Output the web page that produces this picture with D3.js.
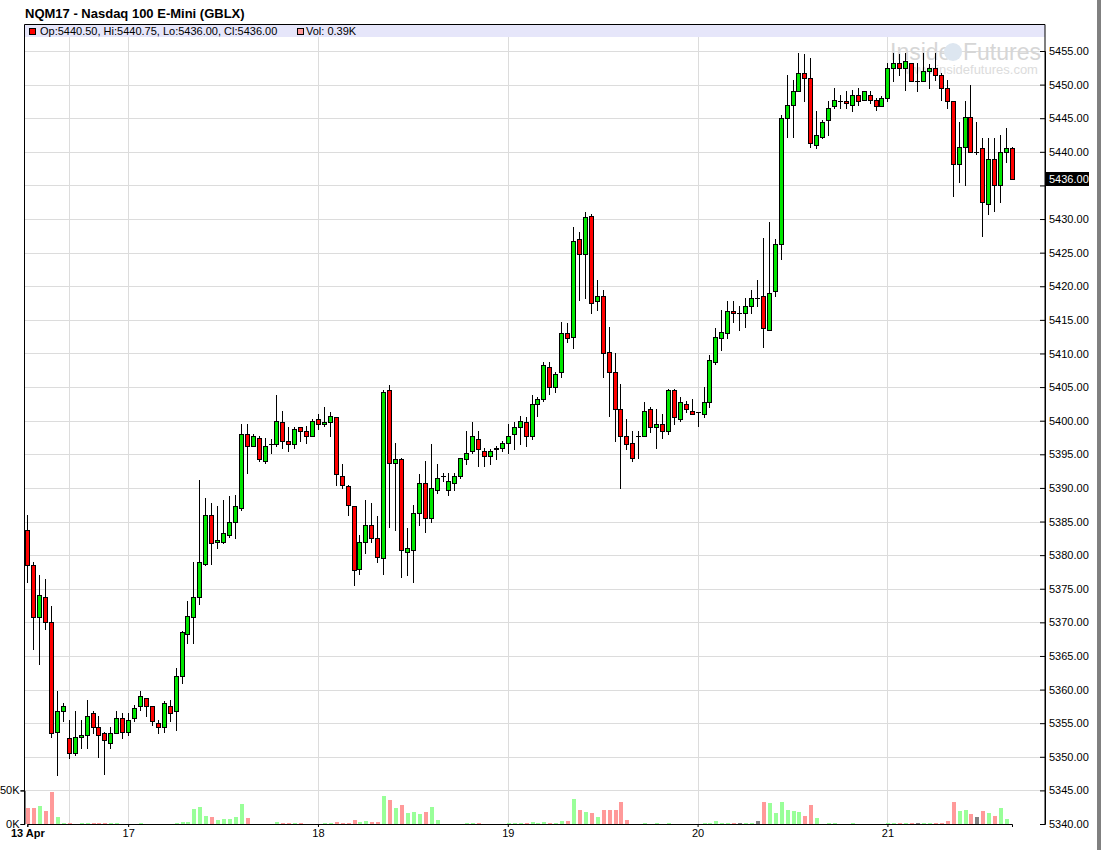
<!doctype html>
<html lang="en">
<head>
<meta charset="utf-8">
<title>NQM17 - Nasdaq 100 E-Mini (GBLX)</title>
<script src="https://d3js.org/d3.v7.min.js"></script>
<style>
  body { margin: 0; background: #fff; }
  text { font-family: "Liberation Sans", Arial, sans-serif; }
</style>
</head>
<body>
<script>
// 45 minute bars, 13 Apr to 21 Apr (weekend collapsed)
var opens = [5383.75,5378.5,5370.75,5373.75,5370,5353.75,5356.75,5352.75,5350.5,5353,
  5353.25,5356.5,5354.5,5353.5,5352,5353.5,5355.75,5353.75,5355.75,5357.5,
  5358.75,5357.5,5355,5354.5,5357.5,5356.75,5362,5368.25,5370.75,5373.75,
  5378.75,5386,5382,5382,5383,5385,5387,5398,5396.25,5397.5,
  5394,5396.5,5396.5,5399.75,5397,5396.5,5399,5398.5,5397.75,5400.25,
  5399.5,5399.75,5400.5,5391.75,5390.25,5387.25,5378,5382,5384.5,5382.5,
  5379.5,5404.5,5393.75,5394.25,5380.5,5380.75,5386.25,5390.75,5385.5,5389.75,
  5391.75,5389.75,5390.75,5391.75,5394.25,5395.5,5397.25,5395.5,5394.75,5395.75,
  5396,5396.75,5398,5399,5399.75,5397.75,5402.5,5403.25,5408,5405,
  5407.25,5413,5412.5,5427,5424.75,5430.5,5417.75,5418.5,5410.25,5407.25,
  5401.75,5397.75,5396.75,5397.75,5397.75,5401.75,5399,5399.5,5398.5,5404.5,
  5400.25,5402.5,5401.5,5401.25,5401,5402.75,5408.75,5412.25,5413,5416.25,
  5416,5416,5417,5418.25,5418.5,5413.5,5419.25,5426.25,5445,5447,
  5449,5451.75,5451,5441,5442.25,5444.75,5446.75,5447.5,5447.5,5447,
  5448.5,5447.75,5448.5,5447.75,5446.75,5448,5452.5,5453.25,5452.5,5453.25,
  5450.5,5450.5,5452,5452.5,5451.5,5449.5,5447.5,5438.25,5440.75,5445.25,
  5440,5440.5,5432.25,5439,5435,5440,5440.5];
var highs = [5386,5379,5377,5376.5,5372.5,5359.75,5358,5355.5,5356.75,5355.5,
  5358.5,5356.75,5356,5353.75,5354.5,5356.75,5356.5,5356.5,5357.75,5359.75,
  5358.75,5357.5,5355.5,5358.25,5358.5,5363.25,5368.75,5373.25,5379,5391.25,
  5388.5,5387.75,5387.25,5388.25,5388.75,5389,5399.5,5399.5,5398,5397.75,
  5397.5,5397.25,5403.75,5401.5,5399,5399,5399,5399.25,5400.25,5401,
  5402,5401.25,5400.5,5393.5,5390.5,5387.25,5383,5388.25,5387.75,5385.75,
  5404.5,5405.25,5396.75,5394.5,5384,5387.5,5392,5394,5396.5,5393.5,
  5392.25,5392.25,5392.25,5394.5,5398.5,5399.75,5398.5,5396,5395.75,5396.25,
  5397,5399.5,5399.75,5400.75,5400.5,5403.75,5403.5,5408.75,5408.75,5407.25,
  5414.75,5414.5,5428.75,5428,5431,5430.75,5421,5419.5,5414,5410,
  5405.5,5400.25,5398.5,5398.5,5402.75,5402,5401.75,5401,5404.75,5404.75,
  5403.5,5403,5403.25,5401.25,5405,5409.75,5413.75,5416.5,5417.75,5417.75,
  5417,5418.25,5419.5,5421,5427.25,5429.5,5427,5445.5,5451.5,5450.75,
  5454.75,5454.5,5454,5446,5444.75,5447.5,5449.5,5448.5,5449,5449.25,
  5449.5,5449,5449,5448,5448.25,5453.25,5454.75,5454.5,5454.75,5453.25,
  5453.25,5454.75,5453,5454.75,5451.75,5450.75,5447.5,5444.5,5447.5,5450,
  5444.5,5442,5442,5442,5442.5,5443.5,5440.75];
var lows = [5376,5366,5363.75,5369,5353,5347.25,5355.25,5349.75,5350.25,5351.25,
  5351.25,5353.5,5350,5347.5,5351.25,5353.5,5352.75,5353.25,5355.25,5357,
  5356,5354.75,5353.5,5353.75,5355.25,5354,5361,5367,5367,5372.75,
  5378.5,5378.75,5381,5381.75,5382.75,5382.5,5386.75,5392.25,5396.25,5394,
  5393.75,5395.25,5396.25,5396,5395.5,5396,5397,5396.75,5397.75,5398.75,
  5399.25,5397.75,5390.5,5390,5386,5375.5,5377.25,5380.25,5382,5379,
  5377.25,5384.25,5383.75,5376.75,5377,5376,5384.5,5383.5,5385,5389.25,
  5391,5389,5389.75,5391.5,5393.5,5395.25,5393.25,5393.25,5393.5,5394.25,
  5395.5,5395.25,5395.75,5396.5,5396.25,5397.25,5400.75,5403,5404,5404.25,
  5406.5,5411.75,5410.75,5418,5418.25,5416,5416.5,5406.5,5400.75,5397,
  5390,5395.75,5394,5394.5,5397.75,5398.25,5396,5397.5,5398,5399.5,
  5400,5401.25,5401,5399.25,5400.5,5402,5408.5,5410.5,5412.25,5414.75,
  5413.5,5414,5416,5417,5411,5413.5,5418.5,5424,5442.25,5442.25,
  5449,5447.5,5440.75,5440.5,5442,5442.5,5446.5,5446.5,5446.5,5446,
  5447,5447.75,5447.25,5446.25,5446.75,5447.5,5450.5,5451.5,5449.25,5450.5,
  5449,5450.5,5449.5,5450.75,5447.75,5446.5,5433.5,5435.5,5435,5440,
  5439.75,5427.5,5430.75,5431.25,5432.5,5438.5,5436];
var closes = [5378.5,5370.75,5374,5370,5353.5,5356.75,5357.5,5350.5,5353,5353.25,
  5356,5354.5,5353.25,5352.5,5353.5,5355.75,5353.75,5355.5,5357.25,5359,
  5357.5,5355.25,5354.5,5358,5356.5,5362,5368.5,5371,5373.75,5379,
  5386,5381.75,5382.25,5383.25,5385,5387.25,5398,5396.25,5397.75,5394.25,
  5396.25,5396.5,5400,5397,5396.5,5398.75,5398.5,5397.75,5400,5399.5,
  5399.75,5400.75,5392,5390.5,5387.5,5377.75,5382,5384.5,5382.5,5379.75,
  5404.25,5393.75,5394.25,5380.75,5381,5386.25,5390.75,5385.5,5390,5391.5,
  5391.75,5391,5391.75,5394.5,5395.25,5397.75,5395.75,5394.75,5395.5,5396,
  5396.75,5397.75,5399,5400,5397.75,5402.5,5403.25,5408.25,5405,5407,
  5413,5412.25,5426.75,5424.75,5430.25,5417.5,5418.5,5410,5407.25,5401.75,
  5397.75,5396.5,5394.5,5397.75,5401.5,5399,5399.5,5398.5,5404.5,5400.5,
  5402.75,5401.75,5401,5401.25,5402.75,5409,5412.5,5413.25,5416.25,5416,
  5416,5417,5418.25,5418.25,5413.75,5419,5426.25,5445,5447,5449,
  5451.75,5451,5441.25,5442.5,5444.5,5446.5,5447.75,5447.5,5447.25,5448.5,
  5447.5,5449,5447.75,5446.75,5448,5452.5,5453.25,5452.5,5453.5,5450.5,
  5450.5,5452,5452.5,5451.5,5449.5,5447.5,5438.25,5440.75,5445.25,5440,
  5440,5432.5,5439,5435,5440,5440.5,5436];
// volume in thousands
var volumes = [24,24,27,19,47.5,10.5,2,2,0.5,1,
  1,1,1,1,1,1,0.3,0.3,0.3,1.5,
  0.3,0.3,0.3,0.3,0.3,1.5,3,3,22,25,
  12,10.5,6,7.5,7.5,10.5,30,9,0.3,0.3,
  0.3,0.3,3,1,1,1,1,0.3,0.3,0.3,
  1.5,1.5,3,1.5,1.5,6,3,4.5,3,3,
  42,36,24,28.5,16.5,18,15,18,25.5,6,
  0.3,0.3,0.3,0.3,1,1,1,0.3,0.3,0.3,
  0.3,1,1,1,1,3,1.5,3,1.5,1.5,
  4.5,4.5,37,21,18,16.5,10.5,21,21,21,
  33,6,0.3,0.3,1,0,1,0,1,0.3,
  0.3,0.3,0.3,0.3,1,1.5,4.5,1.5,1.5,1.5,
  1.5,1.5,1.5,4.5,33,31,16.5,33,21,19.5,
  18,12,28.5,9,0.3,1.5,1.5,0.3,0.3,1,
  0.3,0.3,0.3,0.3,0.3,1,1,1.5,1,1,
  1,1,1,1,1.5,4.5,33,19.5,21,15,
  10.5,19.5,16.5,12,24,7.5,0.39];

// day labels on bar index
var dayTickIdx = [0, 17, 49, 81, 113, 145];
var dayLabels = ["13 Apr", "17", "18", "19", "20", "21"];
var dayGridIdx = [7, 17, 49, 81, 113, 145];
var priceTicks = d3.range(5340, 5456, 5);
var volTicks = [0, 50];

var width = 1104, height = 865;
// note: "top" is taken by window.top, so plot edges get their own names
var plotLeft = 24.5, plotRight = 1045, plotTop = 24.5, plotBottom = 824;

var svg = d3.select('body').append('svg')
  .attr('width', width)
  .attr('height', height);

svg.append('rect').attr('width', width).attr('height', height).attr('fill', '#fff');

var x = d3.scaleLinear().domain([0, 166]).range([27.3, 1012]);
var y = d3.scaleLinear().domain([5340, 5455]).range([plotBottom, 51]);
var yv = d3.scaleLinear().domain([0, 50]).range([plotBottom, plotBottom - 33.6]);

function px(v) { return Math.round(v) + 0.5; }

// grid
var grid = svg.append('g');
grid.selectAll('line.h').data(priceTicks.filter(function(d) { return d > 5340; }))
  .enter().append('line')
  .attr('x1', plotLeft).attr('x2', plotRight)
  .attr('y1', function(d) { return px(y(d)); })
  .attr('y2', function(d) { return px(y(d)); })
  .attr('stroke', '#dcdcdc');
grid.selectAll('line.v').data(dayGridIdx)
  .enter().append('line')
  .attr('x1', function(d) { return px(x(d)); })
  .attr('x2', function(d) { return px(x(d)); })
  .attr('y1', 37).attr('y2', plotBottom)
  .attr('stroke', '#dcdcdc');

// watermark
var wm = svg.append('g').attr('fill', '#d6d6d6');
wm.append('text').attr('x', 890).attr('y', 60).style('font-size', '23px').text('Inside');
wm.append('circle').attr('cx', 953).attr('cy', 52).attr('r', 9).attr('fill', '#dde6f0');
wm.append('text').attr('x', 963).attr('y', 60).style('font-size', '23px').text('Futures');
wm.append('text').attr('x', 905).attr('y', 74).style('font-size', '13px').attr('fill', '#dcdcdc').text('www.insidefutures.com');

// volume bars
var volColor = function(i) {
  if (closes[i] > opens[i]) return '#99ff99';
  if (closes[i] < opens[i]) return '#ff9999';
  return '#808080';
};
svg.append('g').selectAll('rect').data(volumes)
  .enter().append('rect')
  .attr('x', function(d, i) { return Math.round(x(i)) - 1; })
  .attr('width', 4)
  .attr('y', function(d) { return Math.round(yv(d)); })
  .attr('height', function(d) { return plotBottom - Math.round(yv(d)); })
  .attr('fill', function(d, i) { return volColor(i); });

// candles
var candles = svg.append('g').selectAll('g').data(opens)
  .enter().append('g');
candles.append('line')
  .attr('x1', function(d, i) { return px(x(i)); })
  .attr('x2', function(d, i) { return px(x(i)); })
  .attr('y1', function(d, i) { return Math.round(y(highs[i])); })
  .attr('y2', function(d, i) { return Math.round(y(lows[i])) + 1; })
  .attr('stroke', '#000');
candles.append('rect')
  .attr('x', function(d, i) { return px(x(i)) - 2; })
  .attr('width', 4)
  .attr('y', function(d, i) { return px(y(Math.max(opens[i], closes[i]))); })
  .attr('height', function(d, i) {
    return Math.max(0.01, px(y(Math.min(opens[i], closes[i]))) - px(y(Math.max(opens[i], closes[i]))));
  })
  .attr('fill', function(d, i) {
    return closes[i] > opens[i] ? '#00e600' : (closes[i] < opens[i] ? '#ff0000' : '#000');
  })
  .attr('stroke', '#000');

// legend bar
svg.append('rect').attr('x', plotLeft).attr('y', plotTop).attr('width', plotRight - plotLeft).attr('height', 12.5)
  .attr('fill', '#e6e6fa');
svg.append('rect').attr('x', 29.5).attr('y', 28.5).attr('width', 6).attr('height', 6)
  .attr('fill', '#ff0000').attr('stroke', '#000');
svg.append('text').attr('x', 40).attr('y', 35).style('font-size', '11px')
  .text('Op:5440.50, Hi:5440.75, Lo:5436.00, Cl:5436.00');
svg.append('rect').attr('x', 297.5).attr('y', 28.5).attr('width', 6).attr('height', 6)
  .attr('fill', '#ff9999').attr('stroke', '#000');
svg.append('text').attr('x', 306).attr('y', 35).style('font-size', '11px').text('Vol: 0.39K');

// frame
svg.append('path')
  .attr('d', 'M' + plotLeft + ',' + plotBottom + 'V' + plotTop + 'H' + plotRight + 'V' + plotBottom)
  .attr('fill', 'none').attr('stroke', '#000');

// axes
var lastClose = closes[closes.length - 1];
var yAxis = svg.append('g').attr('transform', 'translate(' + plotRight + ',0)')
  .call(d3.axisRight(y).tickValues(priceTicks).tickFormat(d3.format('.2f')).tickSize(-5).tickPadding(4));
// the last price box hides the label it sits on
yAxis.selectAll('.tick text').filter(function(d) { return Math.abs(y(d) - y(lastClose)) < 12; }).remove();
var vAxis = svg.append('g').attr('transform', 'translate(' + plotLeft + ',0)')
  .call(d3.axisLeft(yv).tickValues(volTicks).tickFormat(function(d) { return d + 'K'; }).tickSize(4).tickPadding(1));
var xAxis = svg.append('g').attr('transform', 'translate(0,' + plotBottom + ')')
  .call(d3.axisBottom(x).tickValues(dayTickIdx).tickFormat(function(d, i) { return dayLabels[i]; }).tickSize(3).tickPadding(2));
[yAxis, vAxis, xAxis].forEach(function(a) {
  a.select('.domain').attr('stroke', '#000');
  a.selectAll('text').style('font-size', '11px').attr('fill', '#000')
    .style('font-family', '"Liberation Sans", Arial, sans-serif');
});
xAxis.selectAll('.tick text').filter(function(d) { return d === 0; }).style('font-weight', 'bold');

// last price marker
var lastY = y(lastClose);
svg.append('rect').attr('x', plotRight + 1).attr('y', Math.round(lastY) - 7).attr('width', 43).attr('height', 14)
  .attr('fill', '#000');
svg.append('text').attr('x', plotRight + 4).attr('y', lastY + 4).style('font-size', '11px')
  .attr('fill', '#fff').text(d3.format('.2f')(lastClose));

// title
svg.append('text').attr('x', 25).attr('y', 17.5).style('font-size', '13px').style('font-weight', 'bold')
  .text('NQM17 - Nasdaq 100 E-Mini (GBLX)');

// page edge shadow
svg.append('rect').attr('x', 1097).attr('y', 0).attr('width', 4).attr('height', 850).attr('fill', '#808080');
</script>
</body>
</html>
